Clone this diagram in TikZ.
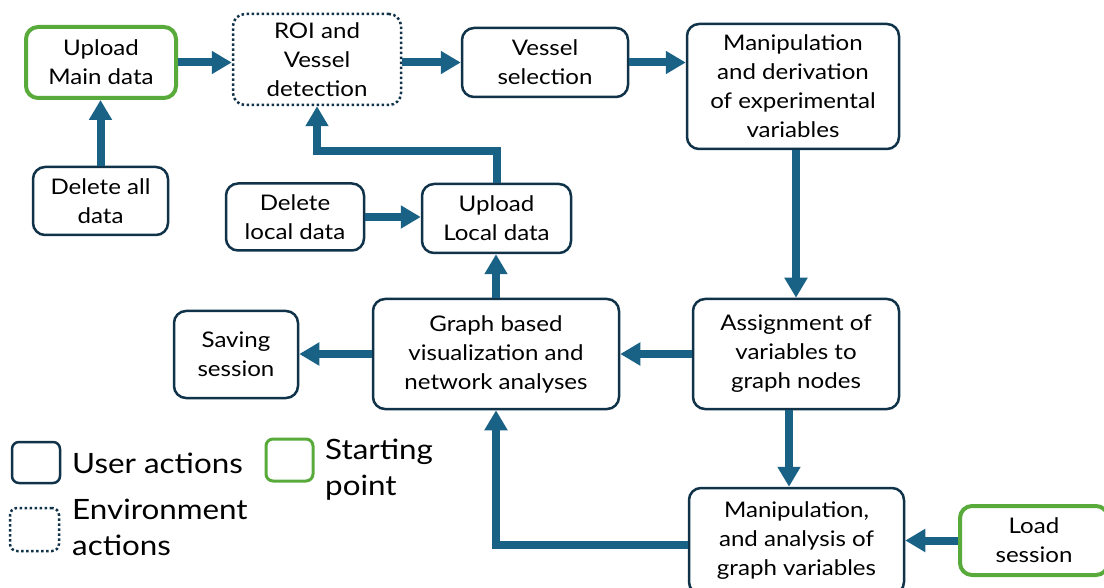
\documentclass[tikz,border=0pt]{standalone}
\usepackage{fontspec}
\setmainfont{Lato}[FakeStretch=1.12]
\usetikzlibrary{arrows.meta}
\definecolor{boxline}{HTML}{10334A}
\definecolor{flow}{HTML}{1A6285}
\definecolor{startgreen}{HTML}{58AB3A}
\begin{document}
\begin{tikzpicture}[x=1pt,y=-1pt,
  sz/.style 2 args={minimum width=#1pt, minimum height=#2pt},
  box/.style={draw=boxline, line width=2.5pt, rounded corners=12pt, fill=white,
    align=center, inner sep=0pt, text=black, font=\fontsize{21.5}{29}\selectfont},
  startbox/.style={box, draw=startgreen, line width=4pt},
  envbox/.style={box, dash pattern=on 2.5pt off 2.5pt},
  flowarrow/.style={draw=flow, line width=8pt, -{Triangle[width=22pt,length=20pt]}},
  legtext/.style={font=\fontsize{28}{36}\selectfont, align=left, anchor=west,
    inner sep=0pt, text=black}]
\clip (0,0) rectangle (1104,588);

% workflow steps
\node[startbox, sz={150}{71}]  (upmain)   at (101,62.5)  {Upload\\Main data};
\node[envbox,   sz={168}{91}]  (roi)      at (317,59.5)  {ROI and\\Vessel\\detection};
\node[box,      sz={166}{69}]  (vsel)     at (545,62.5)  {Vessel\\selection};
\node[box,      sz={212}{125}] (manipder) at (793,86.5)  {Manipulation\\and derivation\\of experimental\\variables};
\node[box,      sz={135}{68}]  (delall)   at (100.5,201) {Delete all\\data};
\node[box,      sz={138}{67}]  (delloc)   at (295,217)   {Delete\\local data};
\node[box,      sz={149}{69}]  (uploc)    at (496.5,218.5) {Upload\\Local data};
\node[box,      sz={124}{87}]  (saving)   at (236,354.5) {Saving\\session};
\node[box,      sz={246}{110}] (graph)    at (496,354)   {Graph based\\visualization and\\network analyses};
\node[box,      sz={206}{110}] (assign)   at (796,354)   {Assignment of\\variables to\\graph nodes};
\node[box,      sz={215}{106}] (manipan)  at (796.5,541) {Manipulation,\\and analysis of\\graph variables};
\node[startbox, sz={148}{69}]  (load)     at (1034,540.5) {Load\\session};

% connections
\draw[flowarrow] (upmain.east) -- (upmain.east -| roi.west);
\draw[flowarrow] (vsel.west -| roi.east) -- (vsel.west);
\draw[flowarrow] (vsel.east) -- (vsel.east -| manipder.west);
\draw[flowarrow] (delall.north) -- (delall.north |- upmain.south);
\draw[flowarrow] (assign.north |- manipder.south) -- (assign.north);
\draw[flowarrow] (delloc.east) -- (delloc.east -| uploc.west);
\draw[flowarrow] (uploc.north) -- ++(0,-32) -| (roi.south);
\draw[flowarrow] (graph.north) -- (graph.north |- uploc.south);
\draw[flowarrow] (assign.west) -- (graph.east);
\draw[flowarrow] (graph.west) -- (graph.west -| saving.east);
\draw[flowarrow] ([xshift=-7pt]assign.south) -- ([xshift=-7pt]assign.south |- manipan.north);
\draw[flowarrow] (load.west) -- (load.west -| manipan.east);
\draw[flowarrow] ([yshift=-4pt]manipan.west) -| (graph.south);

% legend
\node[box, rounded corners=7pt, sz={48}{41}] (leguser) at (36,462.5) {};
\node[legtext] (legusertxt) at (72,463) {User actions};
\node[startbox, line width=3pt, rounded corners=7pt, sz={47}{42}] (legstart) at (289.5,460) {};
\node[legtext] (legstarttxt) at (325,469.5) {Starting\\point};
\node[envbox, rounded corners=7pt, sz={49}{43}] (legenv) at (34.5,529.5) {};
\node[legtext] (legenvtxt) at (72,527) {Environment\\actions};
\end{tikzpicture}
\end{document}
